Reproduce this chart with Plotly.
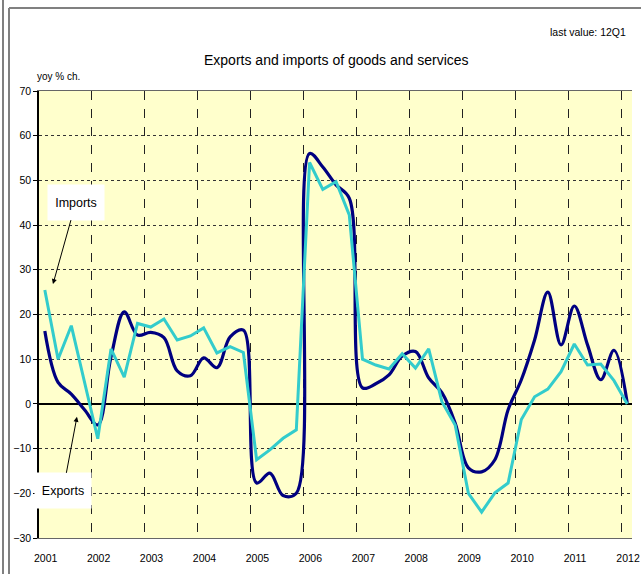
import plotly.graph_objects as go

years = list(range(2001, 2013))
quarters = [f"{y}Q{q}" for y in range(2001, 2013) for q in range(1, 5)][:45]

imports = [25.5, 10, 17.5, 5,
           -7.8, 12.3, 6, 18,
           17.2, 19, 14.3, 15.2,
           17, 11.4, 12.8, 11.5,
           -12.5, -10.3, -7.7, -5.8,
           54, 48, 49.7, 42.3,
           10, 8.7, 7.8, 11.2,
           8, 12.3, 0.5, -4.7,
           -20, -24.2, -19.9, -17.7,
           -3.5, 1.6, 3.3, 7.2,
           13.4, 8.7, 8.9, 5.2,
           0]

exports = [16.3, 4.8, 2.2, -1.3,
           -4.7, 10.5, 20.6, 15.4,
           16, 14.8, 7.4, 6.3,
           10.3, 8.1, 15, 16.5,
           -17.7, -15.5, -20.5, -20,
           56, 53, 49, 46,
           3.6, 4.5, 6.5, 10.7,
           11.7, 5.8, 2.5, -4.3,
           -14.3, -15.2, -12.5, -1.3,
           5.4, 14.3, 25, 13.2,
           21.9, 13.2, 5.4, 12,
           0.2]

# quarter position on a numeric time axis (category centres)
xpos = [int(q[:4]) + (int(q[-1]) - 1) / 4 + 0.11 for q in quarters]

FONT = "Liberation Sans, Arial, sans-serif"

fig = go.Figure()
fig.add_trace(go.Scatter(x=xpos, y=exports, mode="lines", name="Exports",
                         line=dict(color="#000080", width=3.2, shape="spline", smoothing=1)))
fig.add_trace(go.Scatter(x=xpos, y=imports, mode="lines", name="Imports",
                         line=dict(color="#33CCCC", width=3)))

L, R, T, B = 39, 632, 91, 538
W, H = R - L, B - T
def px(x):
    return (x - L) / W
def py(y):
    return (B - y) / H

fig.update_layout(
    width=641, height=574,
    margin=dict(l=L, r=641 - R, t=T, b=574 - B, pad=0, autoexpand=False),
    paper_bgcolor="white",
    plot_bgcolor="#FFFFCC",
    showlegend=False,
    font=dict(family=FONT, size=11, color="black"),
    xaxis=dict(
        range=[2001, 2012.2],
        tickmode="array",
        tickvals=[y + 0.125 for y in years],
        ticktext=[str(y) for y in years],
        showgrid=False, zeroline=False,
        showline=True, mirror=True, linecolor="#666666", linewidth=1,
        ticks="", ticklabelstandoff=10, automargin=False,
        tickfont=dict(family=FONT, size=10.5),
        minor=dict(tickmode="array", tickvals=years, showgrid=True,
                   gridcolor="#222222", gridwidth=1, griddash="dash", ticks=""),
    ),
    yaxis=dict(
        range=[-30, 70], tickmode="linear", tick0=-30, dtick=10,
        showgrid=True, gridcolor="#333333", gridwidth=1, griddash="dot",
        zeroline=True, zerolinecolor="black", zerolinewidth=1.5,
        showline=True, linecolor="black", linewidth=1.5,
        ticks="outside", ticklen=4, tickcolor="black", automargin=False,
        tickfont=dict(family=FONT, size=10.5),
    ),
)

annotations = [
    dict(text="Exports and imports of goods and services", x=px(336), y=py(60),
         xref="paper", yref="paper", xanchor="center", yanchor="middle",
         showarrow=False, font=dict(family=FONT, size=14)),
    dict(text="last value: 12Q1", x=px(628), y=py(32),
         xref="paper", yref="paper", xanchor="right", yanchor="middle",
         showarrow=False, font=dict(family=FONT, size=10.5)),
    dict(text="yoy % ch.", x=px(35), y=py(77),
         xref="paper", yref="paper", xanchor="left", yanchor="middle",
         showarrow=False, font=dict(family=FONT, size=10)),
    dict(text="Imports", x=2001.264, y=26.8, xref="x", yref="y",
         ax=23, ay=-82, axref="pixel", ayref="pixel",
         showarrow=True, arrowhead=2, arrowsize=1, arrowwidth=1, arrowcolor="black",
         bgcolor="white", borderpad=5, width=46, height=25,
         font=dict(family=FONT, size=12.5)),
    dict(text="Exports", x=2001.717, y=-2.9, xref="x", yref="y",
         ax=-14, ay=74, axref="pixel", ayref="pixel",
         showarrow=True, arrowhead=2, arrowsize=1, arrowwidth=1, arrowcolor="black",
         bgcolor="white", borderpad=5, width=46, height=25,
         font=dict(family=FONT, size=12.5)),
]
fig.update_layout(annotations=annotations)

frame = dict(color="#808080", width=2)
fig.add_shape(type="line", xref="paper", yref="paper", x0=px(3), x1=px(3), y0=py(0), y1=py(574), line=frame)
fig.add_shape(type="line", xref="paper", yref="paper", x0=px(9), x1=px(9), y0=py(8), y1=py(574), line=frame)
fig.add_shape(type="line", xref="paper", yref="paper", x0=px(9), x1=px(641), y0=py(8), y1=py(8), line=frame)

fig.write_html("out.html", config={"displayModeBar": False},
               post_script="document.body.style.margin='0';document.body.style.padding='0';")
